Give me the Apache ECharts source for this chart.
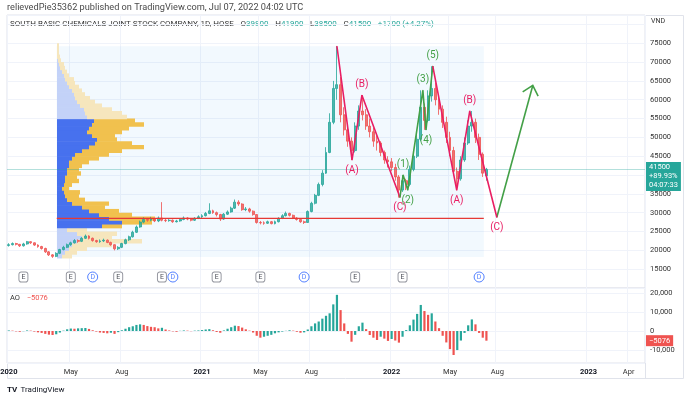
<!DOCTYPE html>
<html>
<head>
<meta charset="utf-8">
<script src="https://cdn.jsdelivr.net/npm/echarts@6/dist/echarts.min.js"></script>
<style>
  html, body { margin: 0; padding: 0; background: #fff; }
  #chart { width: 690px; height: 399px; }
</style>
</head>
<body>
<div id="chart"></div>
<script>
// weekly buckets (monday of each week)
const startWeek = '2019-12-30';
const weekCount = 175;
const DAY = 86400000;
const t0 = Date.parse(startWeek);
const weeks = [];
for (let i = 0; i < weekCount; i++) {
  weeks.push(new Date(t0 + i * 7 * DAY).toISOString().slice(0, 10));
}
const daysOf = (d) => (Date.parse(d) - t0) / DAY;

// [open, close, low, high] per week
const candles = [
  [21300,21500,21000,21900],[21500,21800,21300,22100],[21800,21600,21300,22000],[21600,21200,20900,21700],
  [21200,21700,21000,22000],[21700,22300,21500,22500],[22300,22000,21700,22400],[22000,21400,21200,22100],
  [21400,21000,20700,21600],[21000,20500,20200,21200],[20500,19600,19300,20700],[19600,18800,18500,19800],
  [18800,18400,18000,19000],[18400,19200,18200,19500],[19200,20200,19000,20400],[20200,20800,20000,21200],
  [20800,21500,20600,21800],[21500,22000,21200,22300],[22000,22600,21800,23000],[22600,22400,22000,22900],
  [22400,23200,22200,23500],[23200,23800,23000,24200],[23800,23200,22900,24000],[23200,22600,22300,23400],
  [22600,22300,22000,22800],[22300,22500,22000,22900],[22500,22700,22200,23100],[22700,22100,21900,22900],
  [22100,21500,21200,22300],[21500,20400,20000,21600],[20400,20800,20100,21100],[20800,21800,20600,22000],
  [21800,22800,21600,23100],[22800,23600,22500,23900],[23600,24800,23400,25200],[24800,26200,24600,26600],
  [26200,27500,26000,27900],[27500,28200,27200,28800],[28200,28000,27600,28600],[28000,28400,27700,28900],
  [28400,27800,27500,28600],[27800,28600,27500,29000],[28600,28000,27700,32800],[28000,27900,27500,28400],
  [27900,28000,27600,28300],[28000,27600,27300,28200],[27600,27800,27400,28100],[27800,28200,27600,28500],
  [28200,28600,28000,29000],[28600,28300,28000,28800],[28300,28000,27700,28500],[28000,28500,27800,28800],
  [28500,28900,28300,29300],
  [28900,29200,28600,29600],[29200,29800,29000,30200],[29800,30500,29600,32500],[30500,30000,29700,30800],
  [30000,29500,29000,30300],[29500,28300,27800,29700],[28300,29600,28100,29900],[29600,30200,29400,30600],
  [30200,31200,30000,31600],[31200,32800,31000,33500],[32800,32300,31800,33300],[32300,30800,30500,32500],
  [30800,31000,30400,31500],[31000,30400,30000,31300],[30400,29500,29200,30600],[29500,27400,27100,29600],
  [27400,27300,26900,27800],[27300,27200,26800,27700],[27200,27600,27000,27900],[27600,27100,26900,27800],
  [27100,27600,26900,27900],[27600,28500,27400,28800],[28500,29200,28300,29600],[29200,29800,29000,30300],
  [29800,29300,29000,30000],[29300,28600,28300,29500],[28600,28200,27900,28800],[28200,27600,27300,28500],
  [27600,27400,27000,27900],[27400,30300,27300,30600],[30300,32500,30100,32900],[32500,34600,32200,35000],
  [34600,37500,34400,38000],[37500,40500,37000,41300],[40500,46000,40300,47400],[46000,54000,45800,56400],
  [54000,63000,53500,65000],[63000,64000,60000,74200],[64000,56000,54000,66000],[56000,52000,50500,58000],
  [52000,49000,47500,53500],[49000,46500,44000,50000],[46500,53000,46000,54000],[53000,57000,52000,58500],
  [57000,56000,54500,61200],[56000,53000,52000,57500],[53000,51500,50000,55000],[51500,49000,47500,52500],
  [49000,48500,46500,50500],[48500,46000,45000,49000],[46000,44000,43000,46500],[44000,43500,42000,45000],
  [43500,42000,41000,44500],[42000,39500,38500,43000],[39500,36000,34000,40000],[36000,38500,35500,40000],
  [38500,37500,36000,39000],[37500,41500,37000,42500],[41500,45000,41000,46000],[45000,49500,44500,51000],
  [49500,58000,49000,62500],[58000,54500,52000,59000],[54500,61000,54000,62500],[61000,63000,59500,68900],
  [63000,60000,58500,64500],[60000,57500,56000,61500],[57500,54000,52500,58500],[54000,50000,48500,55500],
  [50000,46500,45000,51500],[46500,41000,40000,47500],[41000,39000,36000,42000],[39000,44000,38500,45000],
  [44000,48500,43500,50000],[48500,53000,48000,54500],[53000,54000,51500,57000],[54000,50000,48500,55000],
  [50000,45500,44000,51000],[45500,40500,39500,46000],[39800,41500,38500,41900]
];

// Awesome Oscillator, weekly
const aoValues = [
  300, 200, -200, -400, -100, 300, 200, -300, -700, -1000,
  -1500, -1900, -2100, -1700, -800, 200, 900, 1300, 1200, 1400,
  1500, 1600, 1100, 400, -300, -800, -1000, -1200, -900, -1500,
  -600, 400, 1200, 2000, 2500, 3200, 3500, 3200, 2600, 2200,
  2000, 1400, 1700, 800, 300, -200, -400, 100, 300, 200,
  -100, 200, 300, 500, 800, 1000, 400, -500, -900, 300,
  1200, 2000, 2800, 2600, 1800, 900, 200, -800, -2500, -3500,
  -3000, -2500, -2000, -1200, -700, -300, 100, 400, 200, -400,
  -900, -700, 800, 2500, 4000, 5000, 6500, 8000, 9300, 14000,
  19000, 11000, 4000, -1500, -5600, -2000, 2500, 4400, 1000, -2100,
  -3500, -4700, -3000, -4000, -5200, -4200, -5000, -6100, -3000, 500,
  3000, 6000, 9000, 13700, 10500, 8500, 9300, 5000, 1500, -2500,
  -6000, -9500, -12600, -10000, -5000, -1000, 3000, 6100, 3500, -1000,
  -3500, -5076
];

// fixed range volume profile, rows from profileFrom upward
const profileFrom = 18000;
const profileStep = 1000;
const profileUp = [5, 8, 12, 15, 20, 25, 20, 10, 45, 65, 52, 42, 32, 25, 15, 10, 8, 7, 5, 7,
  8, 8, 10, 10, 12, 12, 15, 18, 25, 32, 38, 40, 35, 30, 32, 35, 37, 30, 28, 27,
  23, 20, 18, 17, 15, 12, 10, 8, 7, 5, 3, 2, 1, 0, 0, 0, 0];
const profileDown = [10, 12, 18, 40, 65, 30, 40, 20, 20, 30, 46, 33, 30, 23, 37, 18, 14, 16, 7, 8,
  14, 12, 14, 12, 13, 20, 27, 34, 40, 55, 37, 20, 23, 35, 40, 52, 41, 40, 37, 28,
  22, 18, 15, 11, 10, 10, 8, 9, 5, 5, 5, 5, 3, 3, 2, 2, 2];
const valueArea = [26000, 55000];
const profileRange = ['2020-04-02', '2022-07-01'];

// drawn waves [date, price, label]
const waveRed1 = [['2021-09-22', 74200, ''], ['2021-10-21', 44000, '(A)'], ['2021-11-09', 61200, '(B)'], ['2022-01-21', 34100, '(C)']];
const waveGreen = [['2022-01-21', 34100, ''], ['2022-01-27', 40000, '(1)'], ['2022-02-05', 36000, '(2)'],
  ['2022-03-06', 62500, '(3)'], ['2022-03-12', 52000, '(4)'], ['2022-03-25', 68900, '(5)']];
const waveRed2 = [['2022-03-25', 68900, ''], ['2022-05-10', 36000, '(A)'], ['2022-06-04', 57000, '(B)'], ['2022-07-26', 28800, '(C)']];
const arrowPath = [['2022-07-26', 28800], ['2022-10-03', 63800]];

const events = [['2020-01-27','E'],['2020-04-27','E'],['2020-06-08','D'],['2020-07-27','E'],['2020-10-19','E'],
  ['2020-11-09','D'],['2021-02-01','E'],['2021-04-26','E'],['2021-07-19','D'],['2021-10-25','E'],
  ['2022-01-24','E'],['2022-06-20','D']];

const timeTicks = [['2019-12-30', '2020'], ['2020-04-27', 'May'], ['2020-08-03', 'Aug'], ['2021-01-04', '2021'],
  ['2021-04-26', 'May'], ['2021-08-02', 'Aug'], ['2022-01-03', '2022'], ['2022-04-25', 'May'],
  ['2022-07-25', 'Aug'], ['2023-01-16', '2023'], ['2023-04-03', 'Apr']];

const lastChange = '+1700 (+4.27%)';
const sinceStart = '+89.93%';
const countdown = '04:07:33';

const UP = '#26a69a', DOWN = '#ef5350', PINK = '#e91e63', GREEN = '#43a047';
const tickMap = new Map(timeTicks);
const isTick = (i, v) => tickMap.has(v);
const last = candles[candles.length - 1];
const aoLast = aoValues[aoValues.length - 1];
const aoLastText = String(aoLast).replace('-', '\u2212');

// box of the profile range
let boxLow = Infinity, boxHigh = -Infinity;
candles.forEach((c, i) => {
  const d = 7 * i;
  if (d + 4 >= daysOf(profileRange[0]) && d <= daysOf(profileRange[1])) {
    boxLow = Math.min(boxLow, c[2]);
    boxHigh = Math.max(boxHigh, c[3]);
  }
});
let pocIdx = 0;
profileUp.forEach((u, k) => {
  if (u + profileDown[k] > profileUp[pocIdx] + profileDown[pocIdx]) pocIdx = k;
});
const pocPrice = profileFrom + pocIdx * profileStep + profileStep / 2;

const chart = echarts.init(document.getElementById('chart'));

function waveSeries(points, color) {
  return {
    type: 'line', xAxisIndex: 2, yAxisIndex: 0, z: 6, silent: true,
    data: points.map((p, k) => {
      const prev = points[k - 1], next = points[k + 1];
      const high = (!prev || p[1] > prev[1]) && (!next || p[1] > next[1]);
      return { value: [daysOf(p[0]), p[1]],
        label: { show: !!p[2], formatter: p[2], position: high ? 'top' : 'bottom' } };
    }),
    symbol: 'circle', symbolSize: 1,
    itemStyle: { color },
    lineStyle: { color, width: 1.6 },
    label: { color, fontSize: 10, distance: 5 }
  };
}

const axisDays = { min: -1.5, max: 7 * weekCount - 1.5 };

const option = {
  animation: false,
  textStyle: { fontFamily: 'Roboto' },
  grid: [
    { left: 7, right: 45, top: 15, height: 273, show: true, borderColor: '#e0e3eb', borderWidth: 1, outerBoundsMode: 'none' },
    { left: 7, right: 45, top: 288, height: 75, show: true, borderColor: '#e0e3eb', borderWidth: 1, outerBoundsMode: 'none' },
    { left: 7, right: 45, top: 270, height: 14, outerBoundsMode: 'none' }
  ],
  xAxis: [
    { type: 'category', gridIndex: 0, data: weeks,
      axisLine: { show: false }, axisTick: { show: false }, axisLabel: { show: false },
      splitLine: { show: true, interval: isTick, lineStyle: { color: '#f0f3fa' } } },
    { type: 'value', gridIndex: 0, show: false, min: -50, max: 588 },
    { type: 'value', gridIndex: 0, show: false, min: axisDays.min, max: axisDays.max },
    { type: 'category', gridIndex: 1, data: weeks,
      axisLine: { show: false }, axisTick: { show: false },
      axisLabel: { interval: isTick, fontSize: 7.5, color: '#333', margin: 5,
        formatter: (v) => {
          const t = tickMap.get(v) || '';
          return /^\d{4}$/.test(t) ? '{y|' + t + '}' : t;
        },
        rich: { y: { fontSize: 7.5, fontWeight: 'bold', color: '#131722' } } },
      splitLine: { show: true, interval: isTick, lineStyle: { color: '#f0f3fa' } } },
    { type: 'category', gridIndex: 2, data: weeks, show: false }
  ],
  yAxis: [
    { type: 'value', gridIndex: 0, position: 'right', min: 10000, max: 82500, interval: 5000,
      axisLine: { show: false }, axisTick: { show: false },
      axisLabel: { fontSize: 7.5, color: '#333', margin: 5,
        formatter: (v) => (v >= 15000 && v <= 75000) ? String(v) : '' },
      splitLine: { lineStyle: { color: '#f0f3fa' } } },
    { type: 'value', gridIndex: 1, position: 'right', min: -16800, max: 22600, splitNumber: 4,
      axisLine: { show: false }, axisTick: { show: false },
      axisLabel: { fontSize: 7.5, color: '#333', margin: 5, showMinLabel: false, showMaxLabel: false },
      splitLine: { lineStyle: { color: '#f0f3fa' } } },
    { type: 'value', gridIndex: 2, show: false, min: 0, max: 1 }
  ],
  series: [
    { // profile range background
      type: 'custom', xAxisIndex: 2, yAxisIndex: 0, z: 1, silent: true,
      data: [[daysOf(profileRange[0]), daysOf(profileRange[1]), boxLow, boxHigh]],
      encode: { x: [0, 1], y: [2, 3] },
      renderItem: (params, api) => {
        const a = api.coord([api.value(0), api.value(3)]);
        const b = api.coord([api.value(1), api.value(2)]);
        return { type: 'rect', shape: { x: a[0], y: a[1], width: b[0] - a[0], height: b[1] - a[1] },
          style: { fill: 'rgba(33,150,243,0.06)' } };
      }
    },
    { // volume profile rows
      type: 'custom', xAxisIndex: 1, yAxisIndex: 0, z: 2, silent: true,
      data: profileUp.map((u, k) => [profileFrom + k * profileStep, u, profileDown[k]]),
      encode: { x: 1, y: 0 },
      renderItem: (params, api) => {
        const lo = api.value(0), up = api.value(1), dn = api.value(2);
        const va = lo >= valueArea[0] && lo <= valueArea[1] - profileStep;
        const a = api.coord([0, lo + profileStep]);
        const b = api.coord([up, lo]);
        const c = api.coord([up + dn, lo]);
        const h = b[1] - a[1] + 0.6;
        return { type: 'group', children: [
          { type: 'rect', shape: { x: a[0], y: a[1], width: b[0] - a[0], height: h },
            style: { fill: va ? '#4771ee' : '#c3d2f8' } },
          { type: 'rect', shape: { x: b[0], y: a[1], width: c[0] - b[0], height: h },
            style: { fill: va ? '#f1c14e' : '#f6e6bd' } }
        ] };
      }
    },
    {
      type: 'candlestick', xAxisIndex: 0, yAxisIndex: 0, z: 3, barWidth: 2.4,
      data: candles,
      itemStyle: { color: UP, color0: DOWN, borderColor: UP, borderColor0: DOWN, borderWidth: 1, opacity: 0.8 },
      markLine: {
        silent: true, symbol: 'none',
        lineStyle: { color: 'rgba(38,166,154,0.35)', type: 'solid', width: 1 },
        label: { position: 'end', distance: 1, offset: [0, 7],
          formatter: last[1] + '\n' + sinceStart + '\n' + countdown,
          backgroundColor: UP, color: '#fff', fontSize: 7.5, lineHeight: 9, padding: [1, 3, 1, 3], align: 'left' },
        data: [{ yAxis: last[1] }]
      }
    },
    { // point of control
      type: 'line', xAxisIndex: 2, yAxisIndex: 0, z: 4, silent: true, symbol: 'none',
      data: [[daysOf(profileRange[0]), pocPrice], [daysOf(profileRange[1]), pocPrice]],
      lineStyle: { color: '#e53935', width: 1.2 }
    },
    waveSeries(waveRed1, PINK),
    waveSeries(waveGreen, GREEN),
    waveSeries(waveRed2, PINK),
    {
      type: 'custom', xAxisIndex: 2, yAxisIndex: 0, z: 6, silent: true,
      data: [[daysOf(arrowPath[0][0]), arrowPath[0][1], daysOf(arrowPath[1][0]), arrowPath[1][1]]],
      encode: { x: [0, 2], y: [1, 3] },
      renderItem: (params, api) => {
        const a = api.coord([api.value(0), api.value(1)]);
        const b = api.coord([api.value(2), api.value(3)]);
        const ang = Math.atan2(a[1] - b[1], a[0] - b[0]);
        const len = 12, spread = 0.73;
        const w1 = [b[0] + len * Math.cos(ang + spread), b[1] + len * Math.sin(ang + spread)];
        const w2 = [b[0] + len * Math.cos(ang - spread), b[1] + len * Math.sin(ang - spread)];
        return { type: 'group', children: [
          { type: 'line', shape: { x1: a[0], y1: a[1], x2: b[0], y2: b[1] }, style: { stroke: GREEN, lineWidth: 1.6 } },
          { type: 'polyline', shape: { points: [w1, b, w2] }, style: { stroke: GREEN, lineWidth: 1.6, fill: null } }
        ] };
      }
    },
    {
      type: 'bar', xAxisIndex: 3, yAxisIndex: 1, barWidth: 2.2,
      data: aoValues.map((v, k) => ({ value: v,
        itemStyle: { color: (k === 0 || v >= aoValues[k - 1]) ? UP : DOWN } })),
      markLine: {
        silent: true, symbol: 'none',
        lineStyle: { color: 'rgba(0,0,0,0)', width: 1 },
        label: { show: true, position: 'end', distance: 1, formatter: aoLastText,
          backgroundColor: DOWN, color: '#fff', fontSize: 7.5, padding: [2, 3, 1, 3], align: 'left' },
        data: [{ yAxis: aoLast }]
      }
    },
    {
      type: 'scatter', xAxisIndex: 4, yAxisIndex: 2, z: 5, silent: true,
      data: events.map((e) => e[1] === 'E'
        ? { value: [e[0], 0.5], symbol: 'roundRect', symbolSize: [9, 10],
            itemStyle: { color: '#fff', borderColor: '#787b86', borderWidth: 1 },
            label: { show: true, formatter: 'E', color: '#131722', fontSize: 7 } }
        : { value: [e[0], 0.5], symbol: 'circle', symbolSize: 10,
            itemStyle: { color: '#fff', borderColor: '#2962ff', borderWidth: 1 },
            label: { show: true, formatter: 'D', color: '#2962ff', fontSize: 7 } })
    }
  ],
  graphic: [
    { type: 'rect', silent: true, shape: { x: 7.5, y: 15.5, width: 676, height: 363 },
      style: { fill: 'none', stroke: '#e0e3eb', lineWidth: 1 } },
    { type: 'line', silent: true, shape: { x1: 645.5, y1: 363, x2: 645.5, y2: 378 },
      style: { stroke: '#e0e3eb', lineWidth: 1 } },
    { type: 'text', left: 7, top: 3, silent: true,
      style: { text: 'relievedPie35362 published on TradingView.com, Jul 07, 2022 04:02 UTC',
        font: '9.2px Roboto', fill: '#4a4a4a' } },
    { type: 'text', left: 10, top: 18, silent: true,
      style: { text: '{n|SOUTH BASIC CHEMICALS JOINT STOCK COMPANY, 1D, HOSE}  {k|O}{v|' + last[0] + '}  {k|H}{v|' + last[3] +
        '}  {k|L}{v|' + last[2] + '}  {k|C}{v|' + last[1] + '}  {v|' + lastChange + '}',
        rich: { n: { fontSize: 8, fill: '#333', fontFamily: 'Roboto' },
          k: { fontSize: 8, fill: '#333', fontFamily: 'Roboto' },
          v: { fontSize: 8, fill: UP, fontFamily: 'Roboto' } } } },
    { type: 'text', left: 651, top: 18, silent: true, style: { text: 'VND', font: '7px Roboto', fill: '#333' } },
    { type: 'text', left: 10, top: 292, silent: true,
      style: { text: '{k|AO}  {v|' + aoLastText + '}',
        rich: { k: { fontSize: 7.5, fill: '#333', fontFamily: 'Roboto' }, v: { fontSize: 7.5, fill: DOWN, fontFamily: 'Roboto' } } } },
    { type: 'text', left: 7, top: 384, silent: true,
      style: { text: '{l|TV} {t|TradingView}',
        rich: { l: { fontSize: 8, fontWeight: 'bold', fill: '#131722', fontFamily: 'Roboto' },
          t: { fontSize: 8, fill: '#131722', fontFamily: 'Roboto' } } } }
  ]
};

chart.setOption(option);
window.addEventListener('resize', () => chart.resize());
</script>
</body>
</html>
